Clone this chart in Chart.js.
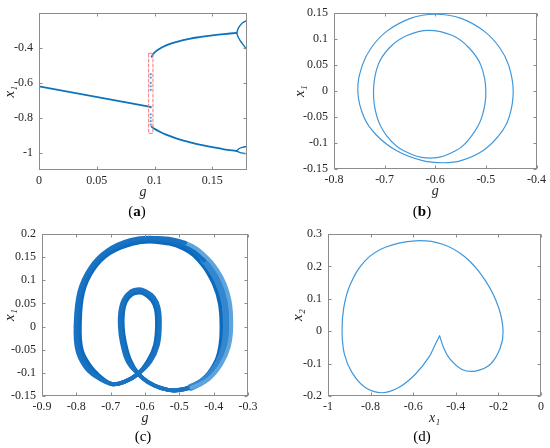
<!DOCTYPE html>
<html>
<head>
<meta charset="utf-8">
<script src="https://cdn.jsdelivr.net/npm/chart.js@4"></script>
<style>
body{margin:0;background:#fff;width:550px;height:448px;position:relative;overflow:hidden}
canvas{position:absolute;left:0;top:0}
.cap{position:absolute;font:15px 'Liberation Serif','Times New Roman',serif;color:#000;transform:translateX(-50%);line-height:17px}
</style>
</head>
<body>
<canvas id="pa" width="550" height="448"></canvas>
<canvas id="pb" width="550" height="448"></canvas>
<canvas id="pc" width="550" height="448"></canvas>
<canvas id="pd" width="550" height="448"></canvas>
<div class="cap" style="left:137px;top:203px">(<b>a</b>)</div>
<div class="cap" style="left:422px;top:203px">(<b>b</b>)</div>
<div class="cap" style="left:143px;top:428px">(c)</div>
<div class="cap" style="left:422px;top:428px">(d)</div>
<script>
// ---- data ----
// (a) bifurcation diagram, x1 vs g
const aXTicks=[0,0.05,0.1,0.15];
const aYTicks=[-1,-0.8,-0.6,-0.4];
const aStable=[[0,-0.62],[0.0965,-0.738]];
const aUpper=[[0.0975,-0.45],[0.099,-0.432],[0.103,-0.41],[0.11,-0.385],[0.12,-0.363],[0.13,-0.347],[0.14,-0.336],[0.15,-0.327],[0.16,-0.32],[0.171,-0.313]];
const aUpperFork1=[[0.171,-0.313],[0.173,-0.28],[0.176,-0.256],[0.18,-0.243]];
const aUpperFork2=[[0.171,-0.313],[0.173,-0.345],[0.176,-0.375],[0.18,-0.41]];
const aLower=[[0.0975,-0.852],[0.1,-0.864],[0.105,-0.882],[0.11,-0.897],[0.12,-0.921],[0.13,-0.94],[0.14,-0.956],[0.15,-0.969],[0.16,-0.981],[0.171,-0.991]];
const aLowerFork1=[[0.171,-0.991],[0.173,-0.978],[0.176,-0.97],[0.18,-0.965]];
const aLowerFork2=[[0.171,-0.991],[0.174,-1.0],[0.177,-1.004],[0.18,-1.007]];
const aJump=[[0.0967,-0.55],[0.0967,-0.57],[0.0967,-0.6],[0.0967,-0.62],[0.0967,-0.64],[0.0967,-0.74],[0.0967,-0.78],[0.0967,-0.8],[0.0967,-0.82],[0.0967,-0.84]];
const aBox=[[0.0949,-0.43],[0.0986,-0.43],[0.0986,-0.89],[0.0949,-0.89],[0.0949,-0.43]];

// (b) period-2 orbit, two closed loops
const bXTicks=[-0.8,-0.7,-0.6,-0.5,-0.4];
const bYTicks=[-0.15,-0.1,-0.05,0,0.05,0.1,0.15];
const bOuter=[[-0.753,0],[-0.744,0.05],[-0.726,0.084],[-0.696,0.115],[-0.649,0.14],[-0.6,0.148],[-0.549,0.14],[-0.503,0.115],[-0.473,0.084],[-0.455,0.05],[-0.446,0],[-0.454,-0.05],[-0.473,-0.084],[-0.506,-0.115],[-0.549,-0.134],[-0.584,-0.138],[-0.625,-0.134],[-0.676,-0.115],[-0.717,-0.084],[-0.741,-0.05],[-0.753,0]];
const bInner=[[-0.722,0],[-0.713,0.05],[-0.69,0.084],[-0.656,0.107],[-0.613,0.117],[-0.566,0.107],[-0.534,0.084],[-0.51,0.05],[-0.5,0],[-0.508,-0.05],[-0.529,-0.087],[-0.56,-0.115],[-0.61,-0.129],[-0.662,-0.115],[-0.695,-0.087],[-0.715,-0.05],[-0.722,0]];

// (c) quasi-periodic band: centre line plus its outer and inner edges
const cXTicks=[-0.9,-0.8,-0.7,-0.6,-0.5,-0.4,-0.3];
const cYTicks=[-0.15,-0.1,-0.05,0,0.05,0.1,0.15,0.2];
const cMid=[[-0.796,0],[-0.791,-0.05],[-0.769,-0.084],[-0.74,-0.106],[-0.697,-0.124],[-0.659,-0.119],[-0.62,-0.102],[-0.587,-0.074],[-0.567,-0.041],[-0.561,0],[-0.564,0.038],[-0.577,0.06],[-0.601,0.074],[-0.618,0.077],[-0.639,0.073],[-0.659,0.056],[-0.668,0.031],[-0.669,0],[-0.663,-0.034],[-0.647,-0.074],[-0.62,-0.102],[-0.591,-0.12],[-0.553,-0.133],[-0.514,-0.138],[-0.466,-0.131],[-0.418,-0.11],[-0.385,-0.077],[-0.368,-0.041],[-0.363,0],[-0.368,0.053],[-0.389,0.1],[-0.428,0.143],[-0.486,0.175],[-0.572,0.1875],[-0.639,0.183],[-0.707,0.161],[-0.755,0.125],[-0.786,0.074],[-0.796,0]];
const cOuter=[[-0.802,0],[-0.797,-0.051],[-0.774,-0.087],[-0.743,-0.108],[-0.697,-0.124],[-0.659,-0.119],[-0.62,-0.102],[-0.584,-0.075],[-0.563,-0.041],[-0.557,0],[-0.56,0.039],[-0.574,0.063],[-0.601,0.0775],[-0.618,0.0805],[-0.64,0.0765],[-0.662,0.058],[-0.672,0.031],[-0.673,0],[-0.667,-0.035],[-0.65,-0.076],[-0.62,-0.102],[-0.591,-0.12],[-0.553,-0.133],[-0.514,-0.138],[-0.465,-0.132],[-0.414,-0.113],[-0.378,-0.081],[-0.356,-0.043],[-0.349,0],[-0.354,0.056],[-0.378,0.107],[-0.421,0.15],[-0.483,0.181],[-0.572,0.1915],[-0.641,0.187],[-0.71,0.164],[-0.759,0.127],[-0.791,0.075],[-0.802,0]];
const cInner=[[-0.79,0],[-0.785,-0.049],[-0.764,-0.081],[-0.737,-0.104],[-0.697,-0.124],[-0.659,-0.119],[-0.62,-0.102],[-0.59,-0.073],[-0.571,-0.041],[-0.565,0],[-0.568,0.037],[-0.58,0.057],[-0.601,0.0705],[-0.618,0.0735],[-0.638,0.0695],[-0.656,0.054],[-0.664,0.031],[-0.665,0],[-0.659,-0.033],[-0.644,-0.072],[-0.62,-0.102],[-0.591,-0.12],[-0.553,-0.133],[-0.514,-0.138],[-0.467,-0.13],[-0.422,-0.107],[-0.392,-0.073],[-0.38,-0.039],[-0.377,0],[-0.382,0.05],[-0.4,0.093],[-0.435,0.136],[-0.489,0.169],[-0.572,0.1835],[-0.637,0.179],[-0.704,0.158],[-0.751,0.123],[-0.781,0.073],[-0.79,0]];

// (d) phase portrait x2 vs x1 (starts and ends at the cusp)
const dXTicks=[-1,-0.8,-0.6,-0.4,-0.2,0];
const dYTicks=[-0.2,-0.1,0,0.1,0.2,0.3];
const dLoop=[[-0.476,-0.014],[-0.496,-0.04],[-0.527,-0.081],[-0.59,-0.133],[-0.668,-0.174],[-0.746,-0.19],[-0.825,-0.174],[-0.887,-0.128],[-0.923,-0.071],[-0.934,0],[-0.926,0.073],[-0.895,0.145],[-0.825,0.218],[-0.731,0.259],[-0.59,0.279],[-0.465,0.269],[-0.355,0.228],[-0.261,0.156],[-0.199,0.073],[-0.178,0],[-0.191,-0.051],[-0.238,-0.102],[-0.308,-0.123],[-0.371,-0.118],[-0.426,-0.087],[-0.457,-0.051],[-0.476,-0.014]];

const SERIF="'Liberation Serif','Times New Roman',serif";
const pts=a=>a.map(p=>({x:p[0],y:p[1]}));
const fmt=v=>String(Math.round(v*1000)/1000);

// MATLAB style box with inward ticks on all four sides
const boxTicks={id:'boxTicks',afterDatasetsDraw(chart){
  const {ctx,chartArea:a,scales:{x,y}}=chart;
  const L=Math.round(a.left)+0.5,R=Math.round(a.right)-0.5,T=Math.round(a.top)+0.5,B=Math.round(a.bottom)-0.5;
  ctx.save();ctx.strokeStyle='#8c8c8c';ctx.lineWidth=1;ctx.beginPath();
  x.ticks.forEach(t=>{const p=Math.round(x.getPixelForValue(t.value))+0.5;ctx.moveTo(p,B);ctx.lineTo(p,B-3);ctx.moveTo(p,T);ctx.lineTo(p,T+3);});
  y.ticks.forEach(t=>{const p=Math.round(y.getPixelForValue(t.value))+0.5;ctx.moveTo(L,p);ctx.lineTo(L+3,p);ctx.moveTo(R,p);ctx.lineTo(R-3,p);});
  ctx.stroke();ctx.strokeRect(L,T,R-L,B-T);ctx.restore();
}};

function line(data,color,width,extra){
  return Object.assign({data:pts(data),borderColor:color,borderWidth:width,pointRadius:0,tension:0.4,fill:false,borderCapStyle:'round',borderJoinStyle:'round'},extra||{});
}
// closed smooth loop: pad with neighbours on both ends and hide the two padding segments
// right (optional) = {x, color, width} used on the part of the loop right of x
function loop(data,color,width,right){
  const n=data.length, padded=[data[n-2]].concat(data,[data[1]]), last=padded.length-1;
  const isRight=c=>right&&padded[c.p0DataIndex][0]>right.x&&padded[c.p1DataIndex][0]>right.x;
  return line(padded,color,width,{segment:{
    borderColor:c=>(c.p0DataIndex===0||c.p1DataIndex===last)?'rgba(0,0,0,0)':(isRight(c)?right.color:undefined),
    borderWidth:c=>isRight(c)&&right.width?right.width:undefined
  }});
}

function panel(id,box,yW,xr,yr,xt,yt,xTitle,yTitle,datasets){
  const xH=34;
  const tickFont={family:SERIF,size:12};
  new Chart(document.getElementById(id),{
    type:'line',
    data:{datasets:datasets},
    options:{
      responsive:false,animation:false,
      layout:{padding:{left:box[0]-yW,right:550-box[1],top:box[2],bottom:448-box[3]-xH}},
      plugins:{legend:{display:false},tooltip:{enabled:false}},
      scales:{
        x:{type:'linear',min:xr[0],max:xr[1],
          afterBuildTicks:s=>{s.ticks=xt.map(v=>({value:v}));},
          afterFit:s=>{s.height=xH;},
          grid:{display:false,drawTicks:false},border:{display:false},
          ticks:{padding:4,color:'#262626',font:tickFont,autoSkip:false,maxRotation:0,callback:fmt},
          title:{display:true,text:xTitle,color:'#262626',font:{family:SERIF,size:14,style:'italic'},padding:{top:0,bottom:3}}},
        y:{type:'linear',min:yr[0],max:yr[1],
          afterBuildTicks:s=>{s.ticks=yt.map(v=>({value:v}));},
          afterFit:s=>{s.width=yW;},
          grid:{display:false,drawTicks:false},border:{display:false},
          ticks:{padding:6,color:'#262626',font:tickFont,autoSkip:false,callback:fmt},
          title:{display:true,text:yTitle,color:'#262626',font:{family:SERIF,size:15,style:'italic'},padding:{top:1,bottom:0}}}
      }
    },
    plugins:[boxTicks]
  });
}

const blueA='#0b72bd', blueThin='#3f97dc';

panel('pa',[39,247,5,170],39,[0,0.18],[-1.1,-0.2],aXTicks,aYTicks,'g','x\u2081',[
  line(aBox,'#f07c7c',1,{tension:0,borderDash:[3,2]}),
  line(aStable,blueA,1.8,{tension:0}),
  line(aUpper,blueA,1.8),
  line(aUpperFork1,blueA,1.4),
  line(aUpperFork2,blueA,1.4),
  line(aLower,blueA,1.8),
  line(aLowerFork1,blueA,1.4),
  line(aLowerFork2,blueA,1.4),
  {data:pts(aJump),showLine:false,pointRadius:1.1,pointBackgroundColor:'#4a9fe0',pointBorderWidth:0}
]);

panel('pb',[334,539,8,169],44,[-0.8,-0.4],[-0.15,0.15],bXTicks,bYTicks,'g','x\u2081',[
  loop(bOuter,blueThin,1.2),
  loop(bInner,blueThin,1.2)
]);

panel('pc',[42,248,234,396],42,[-0.9,-0.3],[-0.15,0.2],cXTicks,cYTicks,'g','x\u2081',[
  loop(cOuter,'#1a72c2',4,{x:-0.5,color:'#5ea5de'}),
  loop(cMid,'#136fc1',4,{x:-0.47,color:'#3387d0',width:7}),
  loop(cInner,'#0c6abd',4)
]);

panel('pd',[328,541,234,396],40,[-1,0],[-0.2,0.3],dXTicks,dYTicks,'x\u2081','x\u2082',[
  line(dLoop,blueThin,1.2)
]);
</script>
</body>
</html>
